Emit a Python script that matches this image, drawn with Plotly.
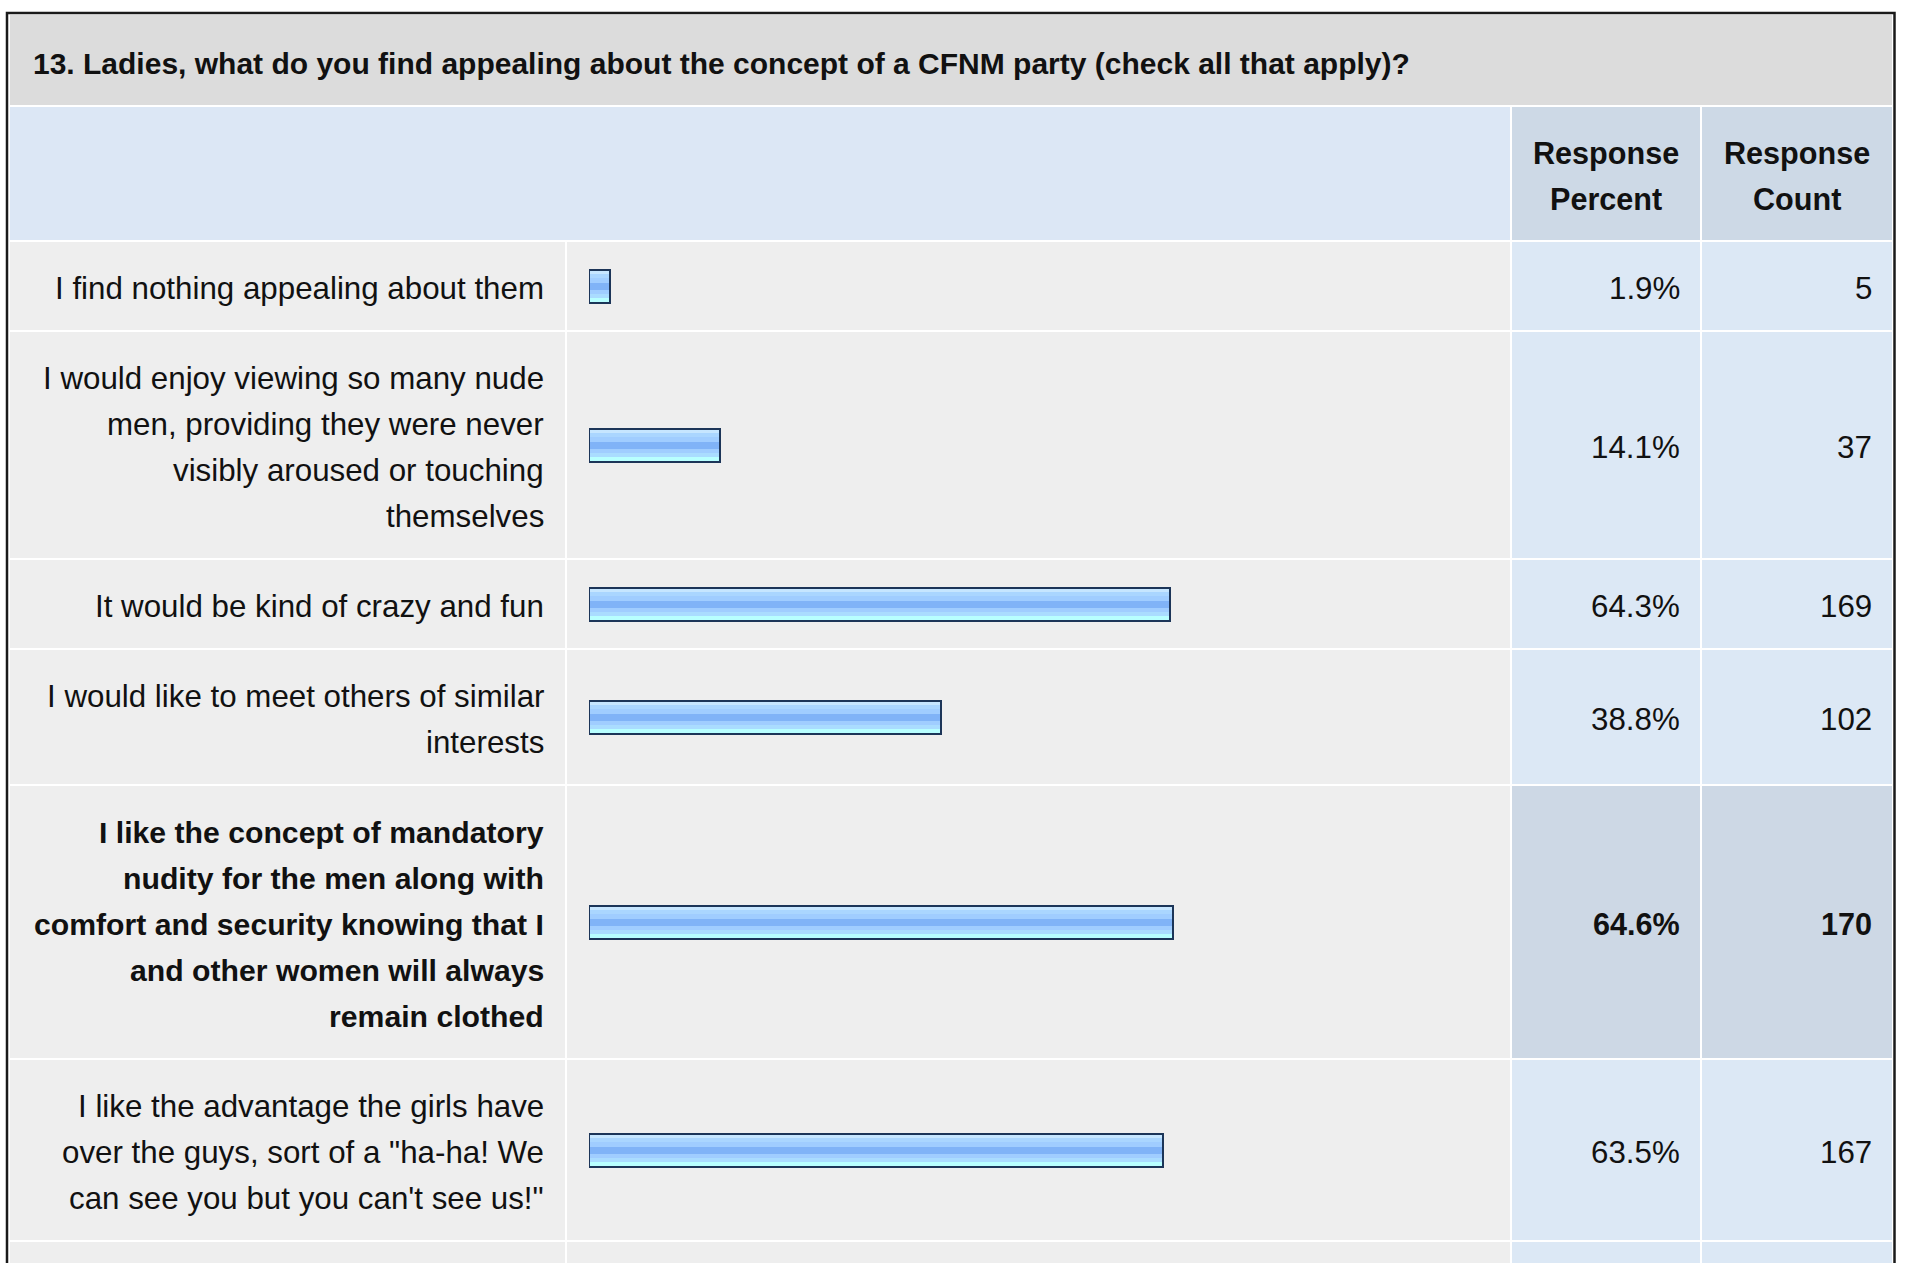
import plotly.graph_objects as go

# ---------------- data ----------------
question = "13. Ladies, what do you find appealing about the concept of a CFNM party (check all that apply)?"
header_percent = ["Response", "Percent"]
header_count = ["Response", "Count"]
answer_lines = [
    ["I find nothing appealing about them"],
    ["I would enjoy viewing so many nude", "men, providing they were never",
     "visibly aroused or touching", "themselves"],
    ["It would be kind of crazy and fun"],
    ["I would like to meet others of similar", "interests"],
    ["I like the concept of mandatory", "nudity for the men along with",
     "comfort and security knowing that I", "and other women will always",
     "remain clothed"],
    ["I like the advantage the girls have", "over the guys, sort of a \"ha-ha! We",
     "can see you but you can't see us!\""],
]
percents = [1.9, 14.1, 64.3, 38.8, 64.6, 63.5]
counts = [5, 37, 169, 102, 170, 167]

# ---------------- layout constants ----------------
W, H = 1907, 1263
FONT = "Arial, 'Liberation Sans', Helvetica, sans-serif"
FS = 31.3        # regular text
FS_B = 30.6      # bold header / numbers
FS_BL = 30.2     # bold answer label
FS_TITLE = 30
LINE = 46
PAD = 21
GAP = 2
ROW0 = 242
LAB_X0, LAB_X1 = 10, 565
BAR_X0, BAR_X1 = 567, 1510
PCT_X0, PCT_X1 = 1512, 1700
CNT_X0, CNT_X1 = 1702, 1892
BAR_H = 33
BAR_STUB = 0.45   # minimum visible stub (in percent units) of each bar

C_TITLE = "#dcdcdc"
C_HEAD = "#dce7f5"
C_HEAD_DARK = "#cdd9e6"
C_ROW = "#eeeeee"
C_NUM = "#dce8f5"
C_NUM_HI = "#cdd8e5"

hi = counts.index(max(counts))


def px(x):
    return x / W


# row geometry derived from line counts
tops, heights, centers = [], [], []
t = ROW0
for lines in answer_lines:
    h = 2 * PAD + LINE * len(lines)
    tops.append(t)
    heights.append(h)
    centers.append(t + h / 2)
    t += h + GAP
next_top = t

shapes = []


def rect(x0, x1, y0, y1, color):
    shapes.append(dict(type="rect", xref="paper", yref="y", x0=px(x0), x1=px(x1),
                       y0=y0, y1=y1, fillcolor=color, line=dict(width=0), layer="below"))


# title band and header
rect(LAB_X0, CNT_X1, 15, 105, C_TITLE)
rect(LAB_X0, BAR_X1, 107, 240, C_HEAD)
rect(PCT_X0, PCT_X1, 107, 240, C_HEAD_DARK)
rect(CNT_X0, CNT_X1, 107, 240, C_HEAD_DARK)

# rows
for i, (top, h) in enumerate(zip(tops, heights)):
    rect(LAB_X0, LAB_X1, top, top + h, C_ROW)
    rect(BAR_X0, BAR_X1, top, top + h, C_ROW)
    num_c = C_NUM_HI if i == hi else C_NUM
    rect(PCT_X0, PCT_X1, top, top + h, num_c)
    rect(CNT_X0, CNT_X1, top, top + h, num_c)
# next (cut-off) row
rect(LAB_X0, LAB_X1, next_top, next_top + 200, C_ROW)
rect(BAR_X0, BAR_X1, next_top, next_top + 200, C_ROW)
rect(PCT_X0, PCT_X1, next_top, next_top + 200, C_NUM)
rect(CNT_X0, CNT_X1, next_top, next_top + 200, C_NUM)

# outer border
shapes.append(dict(type="rect", xref="paper", yref="y", x0=px(7), x1=px(1894.5),
                   y0=13, y1=1400, line=dict(color="#1a1a1a", width=2.5),
                   fillcolor="rgba(0,0,0,0)", layer="above"))

annotations = []


def text(x, y, s, anchor="right", bold=False, size=None):
    if size is None:
        size = FS_B if bold else FS
    annotations.append(dict(xref="paper", yref="y", x=px(x), y=y,
                            text="<b>" + s + "</b>" if bold else s,
                            showarrow=False, xanchor=anchor, yanchor="middle",
                            font=dict(family=FONT, size=size, color="#111111"),
                            align=anchor))


text(31, 63, question, anchor="left", bold=True, size=FS_TITLE)

for j, s in enumerate(header_percent):
    text((PCT_X0 + PCT_X1) / 2, 153 + j * LINE, s, anchor="center", bold=True)
for j, s in enumerate(header_count):
    text((CNT_X0 + CNT_X1) / 2, 153 + j * LINE, s, anchor="center", bold=True)

for i, lines in enumerate(answer_lines):
    b = i == hi
    for j, s in enumerate(lines):
        yy = tops[i] + PAD + LINE / 2 + j * LINE + 2
        text(546, yy, s, bold=b, size=FS_BL if b else FS)
    text(1681.5, centers[i] + 2, f"{percents[i]:.1f}%", bold=b)
    text(1873.5, centers[i] + 2, str(counts[i]), bold=b)

# ---------------- bars (striped to imitate gradient) ----------------
stripes = [
    (0, 33, "#a0cdff"),
    (0, 4, "#c6e6ff"),
    (4, 8, "#aad6ff"),
    (13, 20, "#80b3f7"),
    (24, 28, "#aadcff"),
    (28, 33, "#b8ffff"),
]
n = len(percents)

fig = go.Figure()
for (a, b, c) in stripes:
    fig.add_trace(go.Bar(
        x=[p + BAR_STUB for p in percents], y=centers, orientation="h",
        base=[-BAR_STUB] * n,
        width=[b - a] * n, offset=[-BAR_H / 2 + a] * n,
        marker=dict(color=c, line=dict(width=0)),
        hoverinfo="skip", showlegend=False,
    ))
fig.add_trace(go.Bar(
    x=[p + BAR_STUB for p in percents], y=centers, orientation="h",
    base=[-BAR_STUB] * n,
    width=[BAR_H] * n, offset=[-BAR_H / 2] * n,
    marker=dict(color="rgba(0,0,0,0)", line=dict(color="#1c3558", width=2)),
    hoverinfo="skip", showlegend=False,
))

fig.update_layout(
    width=W, height=H,
    margin=dict(l=0, r=0, t=0, b=0),
    paper_bgcolor="white", plot_bgcolor="white",
    barmode="overlay", bargap=0,
    xaxis=dict(domain=[px(589), px(1491)], range=[-BAR_STUB, 100], visible=False, fixedrange=True),
    yaxis=dict(domain=[0, 1], range=[H, 0], visible=False, fixedrange=True),
    shapes=shapes, annotations=annotations,
    showlegend=False,
)

fig.write_html(
    "out.html",
    config={"displayModeBar": False},
    post_script="document.body.style.margin='0';document.body.style.overflow='hidden';",
)
